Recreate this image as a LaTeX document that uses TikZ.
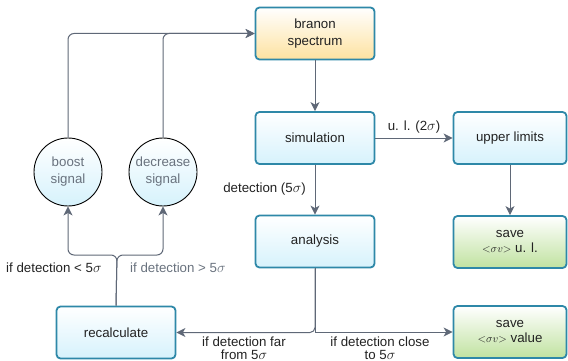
\documentclass[tikz,border=0pt]{standalone}
\usepackage{fontspec}
\setmainfont{Liberation Sans}
\usetikzlibrary{arrows.meta}
\definecolor{bordc}{RGB}{46,136,168}
\definecolor{cyanf}{RGB}{214,242,252}
\definecolor{orangef}{RGB}{253,226,160}
\definecolor{greenf}{RGB}{192,226,160}
\definecolor{arrc}{RGB}{95,104,119}
\definecolor{txtc}{RGB}{34,34,34}
\definecolor{grayt}{RGB}{105,114,126}
\newcommand{\sv}{{\fontsize{11}{13}\selectfont$\mathord{<}\sigma v\mathord{>}$}}
\begin{document}
\begin{tikzpicture}[x=1pt,y=-1pt,
  font=\fontsize{13.3}{16}\selectfont,
  boxst/.style={draw=bordc, line width=1.8pt, rounded corners=4pt, minimum width=119pt, minimum height=52pt, align=center, text=txtc, inner sep=0pt, top color=white, bottom color=cyanf},
  circst/.style={circle, draw=black, line width=0.9pt, minimum size=68pt, inner sep=0pt, align=center, text=grayt, top color=white, bottom color=cyanf},
  conn/.style={draw=arrc, line width=1pt},
  arr/.style={conn, -{Stealth[length=9pt,width=9pt,inset=2.5pt]}},
  lbl/.style={text=txtc, align=center, inner sep=0pt},
]
\useasboundingbox (0,0) rectangle (568,361);

\node[boxst, bottom color=orangef] (branon) at (315,33.5) {branon\\[1pt]spectrum};
\node[boxst] (sim) at (315,138) {simulation};
\node[boxst] (ana) at (315,241.5) {analysis};
\node[boxst, minimum width=113pt] (upper) at (510,138) {upper limits};
\node[boxst, minimum width=113pt, bottom color=greenf] (saveul) at (510,242) {save\\[-1pt]\sv{} u. l.};
\node[boxst] (recalc) at (116,332.5) {recalculate};
\node[boxst, minimum width=113pt, bottom color=greenf] (saveval) at (510,332) {save\\[-1pt]\sv{} value};

\node[circst] (boost) at (68,172) {boost\\[1pt]signal};
\node[circst] (decr) at (163,172) {decrease\\[1pt]signal};

% main flow
\draw[arr] (branon.south) -- (sim.north);
\draw[arr] (sim.east) -- node[lbl, above=4pt] {u. l. (2$\sigma$)} (upper.west);
\draw[arr] (sim.south) -- (ana.north);
\node[lbl, anchor=east] (detlbl) at (306,189) {detection (5$\sigma$)};
\draw[arr] (upper.south) -- (saveul.north);

% analysis outcomes
\draw[arr, rounded corners=5pt] (ana.south) |- (recalc.east);
\draw[arr] (ana.south) |- (saveval.west);
\node[lbl, anchor=south] (farlbl) at (244,360) {if detection far\\[-3pt]from 5$\sigma$};
\node[lbl, anchor=south] (closelbl) at (380,360) {if detection close\\[-3pt]to 5$\sigma$};

% recalc to circles
\coordinate (rj) at (117,255);
\draw[arr, rounded corners=6pt] (recalc.north) -- (rj) -- (rj -| boost.south) -- (boost.south);
\draw[arr, rounded corners=6pt] (recalc.north) -- (rj) -- (rj -| decr.south) -- (decr.south);
\node[lbl, anchor=west] (ltlbl) at (6,268) {if detection < 5$\sigma$};
\node[lbl, anchor=west, text=grayt] (gtlbl) at (130,268) {if detection > 5$\sigma$};

% circles back to branon
\coordinate (tj) at (68,33.5);
\draw[arr, rounded corners=6pt] (boost.north) -- (tj) -- (branon.west);
\draw[arr, rounded corners=6pt] (decr.north) -- (decr.north |- tj) -- (branon.west);
\end{tikzpicture}
\end{document}
